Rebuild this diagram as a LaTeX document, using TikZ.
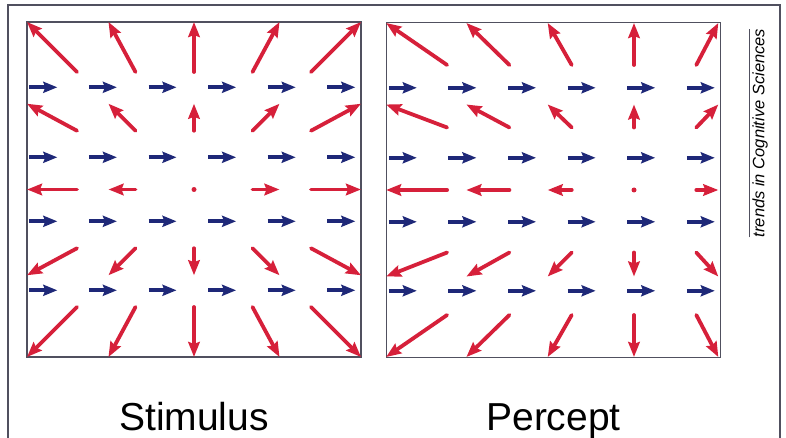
\documentclass[tikz,border=0pt]{standalone}
\usepackage{fontspec}
\setmainfont{Liberation Sans}
\usetikzlibrary{arrows.meta,positioning,calc}

\definecolor{flowred}{RGB}{214,32,58}
\definecolor{flowblue}{RGB}{30,40,120}
\definecolor{framegray}{RGB}{80,80,95}

\begin{document}
\begin{tikzpicture}[
  x=1pt, y=-1pt,
  panel/.style={draw=framegray, line width=1.4pt, minimum width=334pt, minimum height=335pt, inner sep=0pt},
  radial/.style={flowred, line width=3.8pt, line cap=round, -{Stealth[length=15pt,width=11.5pt,inset=2pt]}},
  planar/.style={flowblue, line width=4.2pt, -{Stealth[length=14pt,width=11pt,inset=2pt]}},
  caption/.style={font=\fontsize{39}{40}\selectfont, anchor=base},
  credit/.style={font=\fontsize{16.5}{17}\selectfont\itshape, rotate=90, inner sep=0pt}
]
  \useasboundingbox (0,0) rectangle (786,438);

  % Outer frame
  \draw[framegray, line width=1.3pt] (8,438) -- (8,5) -- (780,5) -- (780,438);

  % Panels
  \node[panel] (stim) at (194,189.5) {};
  \node[panel] (perc) at (553.5,190) {};
  \coordinate (foe) at (634,190);

  % Planar motion (same in both panels)
  \foreach \p in {stim,perc}
    \foreach \k in {0,...,5}
      \foreach \y in {66,136,200,269}
        \draw[planar] ($(\p.north west)+(3+59.6*\k,\y)$) -- ++(28,0);

  % Stimulus: radial expansion
  \foreach \i/\u in {-2/-50,-1/-27,0/0,1/27,2/50}
    \foreach \j/\v in {-2/-50,-1/-27,0/0,1/27,2/50} {
      \pgfmathtruncatemacro\r{abs(\i)+abs(\j)}
      \ifnum\r>0
        \draw[radial] ($(stim.center)+(58.5*\i,58.75*\j)$) -- ++(\u,\v);
      \fi
    }
  \fill[flowred] (stim.center) circle (2.5pt);

  % Percept: focus of expansion shifted
  \foreach \i/\u in {-3/-61,-2/-43,-1/-24,0/0,1/22}
    \foreach \j/\v in {-2/-42,-1/-23,0/0,1/24,2/42} {
      \pgfmathtruncatemacro\r{abs(\i)+abs(\j)}
      \ifnum\r>0
        \draw[radial] ($(foe)+(62.3*\i,62.5*\j)$) -- ++(\u,\v);
      \fi
    }
  \fill[flowred] (foe) circle (2.5pt);

  % Captions
  \node[caption] (stimtxt) at (194,430) {Stimulus};
  \node[caption] (perctxt) at (553.5,430) {Percept};

  % Credit line
  \node[credit] (credit) at (760,133) {trends in Cognitive Sciences};
  \draw[framegray, line width=0.8pt] ([xshift=-3pt]credit.north west) -- ([xshift=-3pt]credit.north east);
\end{tikzpicture}
\end{document}
